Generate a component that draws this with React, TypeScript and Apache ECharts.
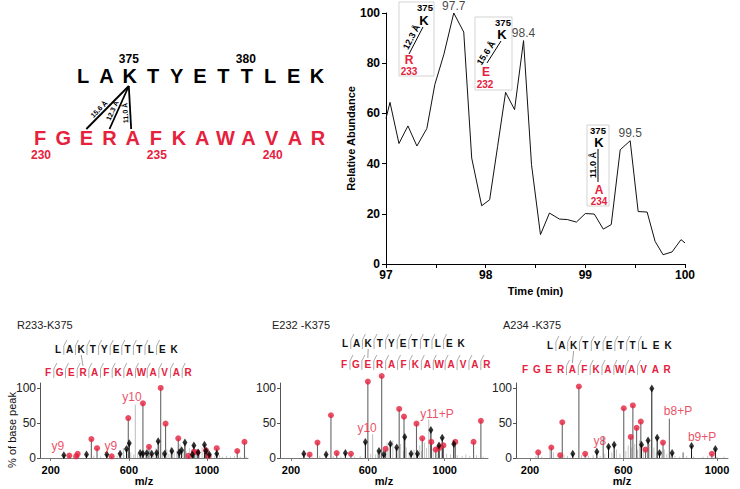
import { useEffect, useRef } from 'react';
import * as echarts from 'echarts';

// ---------- XIC (top right) ----------
const xicTime = [97.0, 97.04, 97.13, 97.22, 97.31, 97.41, 97.49, 97.58, 97.68, 97.78, 97.86, 97.96, 98.04, 98.12, 98.2, 98.29, 98.38, 98.46, 98.55, 98.64, 98.74, 98.82, 98.91, 99.0, 99.09, 99.18, 99.26, 99.35, 99.45, 99.53, 99.62, 99.7, 99.78, 99.87, 99.96, 100.0];
const xicAbund = [58, 64.4, 48, 55, 47, 54, 71.5, 83.4, 100, 92.4, 42.2, 23.2, 25.6, 46.9, 68.4, 61.5, 89, 39.6, 11.7, 20.3, 17.9, 17.7, 16.7, 20.1, 19.9, 13.9, 15.7, 45.5, 49.1, 20.9, 20.7, 9, 3.7, 4.8, 9.7, 8.4];
const xicPeakTime = [97.68, 98.38, 99.45];
const xicPeakAbund = [100, 89, 49.1];
const xicPeakLabels = ['97.7', '98.4', '99.5'];

// ---------- peptides ----------
const chainA = ['L', 'A', 'K', 'T', 'Y', 'E', 'T', 'T', 'L', 'E', 'K'];
const chainB = ['F', 'G', 'E', 'R', 'A', 'F', 'K', 'A', 'W', 'A', 'V', 'A', 'R'];
const chainANums = ['375', '380'];
const chainANumIdx = [2, 7];
const chainBNums = ['230', '235', '240'];
const chainBNumIdx = [0, 5, 10];
const distLabels = ['15.6 Å', '12.3 Å', '11.0 Å'];
const distTargetIdx = [2, 3, 4];

const panelTitles = ['R233-K375', 'E232 -K375', 'A234 -K375'];

// ---------- spectra ----------
const p1RedMz = [295, 330, 338, 408, 437, 512, 597, 672, 703, 763, 788, 853, 905, 933, 950, 995, 1008, 1050, 1155, 1192];
const p1RedInt = [3.4, 2.4, 6, 27, 14, 2.4, 57, 78, 16, 100, 49, 28, 3, 9, 8, 11, 3, 14, 10, 23];
const p1BlackMz = [267, 383, 487, 555, 588, 602, 658, 672, 692, 717, 742, 750, 783, 820, 858, 870, 887, 925, 933, 955, 987, 995, 1012, 1050];
const p1BlackInt = [4, 5, 5, 6, 13, 21, 7, 6, 7, 6, 7, 24, 6, 10, 8, 11, 22, 5, 18, 8, 19, 10, 5, 6];
const p1NoiseMz = [270, 300, 345, 380, 420, 455, 500, 540, 560, 575, 610, 625, 645, 665, 685, 700, 712, 728, 738, 760, 772, 795, 805, 815, 832, 845, 862, 878, 895, 910, 920, 940, 962, 975, 1005, 1020, 1040, 1065, 1080, 1100, 1120, 1140, 1170, 1200];
const p1NoiseInt = [2, 2, 3, 2, 3, 2, 2, 3, 5, 4, 8, 5, 6, 10, 5, 8, 12, 6, 14, 18, 9, 12, 6, 15, 8, 10, 20, 12, 9, 14, 6, 10, 8, 15, 5, 4, 3, 4, 2, 3, 2, 3, 2, 2];
const p1IonMz = [633, 572];
const p1IonInt = [76, 14];
const p1LabelText = ['y10', 'y9', 'y9'];
const p1LabelMz = [616, 237, 508];
const p1LabelInt = [87, 17, 17];

const p2RedMz = [297, 338, 408, 438, 512, 600, 672, 692, 763, 788, 853, 883, 930, 953, 970, 993, 1055, 1150, 1188];
const p2RedInt = [5, 22, 61, 7, 6, 109, 117, 13, 70, 59, 49, 28, 23, 12, 14, 18, 23, 23, 53];
const p2BlackMz = [267, 383, 483, 587, 658, 683, 717, 750, 792, 825, 858, 928, 970, 987, 1047];
const p2BlackInt = [6, 5, 7, 23, 10, 5, 20, 15, 30, 6, 6, 40, 18, 29, 20];
const p2NoiseMz = [270, 310, 350, 420, 460, 530, 560, 615, 640, 650, 668, 690, 700, 710, 730, 745, 770, 785, 800, 815, 840, 870, 880, 895, 905, 940, 960, 990, 1010, 1030, 1065, 1090, 1110, 1130, 1165, 1200];
const p2NoiseInt = [2, 2, 3, 3, 2, 2, 3, 6, 5, 8, 12, 10, 22, 15, 25, 12, 20, 10, 15, 8, 12, 18, 10, 22, 14, 12, 8, 10, 6, 5, 4, 3, 5, 3, 4, 2];
const p2IonMz = [625, 917];
const p2IonInt = [34, 55];
const p2LabelText = ['y10', 'y11+P'];
const p2LabelMz = [596, 960];
const p2LabelInt = [43, 63];

const p3RedMz = [235, 291, 329, 338, 409, 436, 601, 631, 640, 656, 674, 694, 769, 978];
const p3RedInt = [8, 15, 4, 51, 102, 6, 71, 30, 75, 43, 52, 12, 22, 6];
const p3BlackMz = [383, 486, 536, 560, 677, 705, 721, 744, 754, 808, 891, 993];
const p3BlackInt = [6, 9, 16, 19, 19, 25, 99, 29, 7, 7, 17, 13];
const p3NoiseMz = [225, 250, 285, 300, 345, 360, 420, 450, 470, 500, 520, 550, 570, 585, 610, 620, 635, 648, 660, 668, 685, 695, 712, 730, 740, 762, 775, 785, 800, 820, 840, 870, 900, 940, 960, 1000, 1030];
const p3NoiseInt = [3, 2, 12, 8, 5, 3, 4, 3, 4, 3, 6, 8, 12, 6, 10, 18, 15, 20, 12, 25, 14, 10, 20, 15, 8, 10, 12, 6, 4, 3, 2, 3, 2, 2, 3, 2, 2];
const p3IonMz = [796, 513, 855];
const p3IonInt = [56, 30, 8];
const p3LabelText = ['y8', 'b8+P', 'b9+P'];
const p3LabelMz = [499, 833, 936];
const p3LabelInt = [24, 67, 30];

const RED = '#e6213d';
const FONT = '"Liberation Sans", Arial, Helvetica, sans-serif';

const zip = (a: number[], b: number[]) => a.map((v, i) => [v, b[i]]);

function stickSeries(idx: number, data: number[][], color: string, width: number) {
  return {
    type: 'custom',
    xAxisIndex: idx,
    yAxisIndex: idx,
    clip: false,
    silent: true,
    encode: { x: 0, y: 1 },
    data,
    renderItem: (_p: any, api: any) => {
      const x = api.value(0);
      const v = api.value(1);
      const a = api.coord([x, 0]);
      const b = api.coord([x, v]);
      return { type: 'line', shape: { x1: a[0], y1: a[1], x2: b[0], y2: b[1] }, style: { stroke: color, lineWidth: width } };
    },
  };
}

function text(x: number, y: number, t: string, font: string, fill: string, rotation = 0, align = 'center') {
  return {
    type: 'text',
    x,
    y,
    rotation,
    silent: true,
    style: { text: t, font, fill, textAlign: align, textVerticalAlign: 'middle', align, verticalAlign: 'middle' },
  };
}

function line(x1: number, y1: number, x2: number, y2: number, stroke: string, lineWidth: number) {
  return { type: 'line', silent: true, shape: { x1, y1, x2, y2 }, style: { stroke, lineWidth } };
}

function ladder(
  g: any[],
  bx: number, by: number, bs: number,
  rx: number, ry: number, rs: number,
  bGaps: number[], rGaps: number[], linkB: number, linkR: number,
) {
  chainA.forEach((c, i) => g.push(text(bx + i * bs, by, c, `bold 10px ${FONT}`, '#111')));
  chainB.forEach((c, i) => g.push(text(rx + i * rs, ry, c, `bold 10px ${FONT}`, RED)));
  const mk = (gx: number, y: number) => ({
    type: 'polyline', silent: true,
    shape: { points: [[gx, y + 6], [gx, y - 3], [gx + 3, y - 9]] },
    style: { stroke: '#888', lineWidth: 0.7, fill: 'none' },
  });
  bGaps.forEach((i) => g.push(mk(bx + (i + 0.5) * bs, by)));
  rGaps.forEach((i) => g.push(mk(rx + (i + 0.5) * rs, ry)));
  g.push(line(bx + linkB * bs, by + 6, rx + linkR * rs, ry - 6, '#888', 0.8));
}

function buildGraphic() {
  const g: any[] = [];
  // top-left crosslink diagram
  const ax = 83, ay = 76, as = 23.4;
  const bx = 40, by = 138, bs = 23.17;
  chainA.forEach((c, i) => g.push(text(ax + i * as, ay, c, `bold 20px ${FONT}`, '#000')));
  chainB.forEach((c, i) => g.push(text(bx + i * bs, by, c, `bold 20px ${FONT}`, RED)));
  chainANums.forEach((n, k) => g.push(text(ax + chainANumIdx[k] * as - 1, 58.5, n, `bold 12px ${FONT}`, '#000')));
  chainBNums.forEach((n, k) => g.push(text(bx + chainBNumIdx[k] * bs + 1, 154.5, n, `bold 12px ${FONT}`, RED)));
  const kx = ax + 2 * as - 1, ky = 86;
  distTargetIdx.forEach((ti, k) => {
    const tx = bx + ti * bs - (k === 2 ? 1.5 : 0);
    const ty = 129;
    g.push(line(kx, ky, tx, ty, '#000', 1.8));
    const ang = Math.atan2(ty - ky, kx - tx);
    const f = 0.62;
    const px = kx + (tx - kx) * f;
    const py = ky + (ty - ky) * f;
    const nx = -Math.sin(ang), ny = -Math.cos(ang);
    g.push(text(px + nx * 5, py + ny * 5, distLabels[k], `bold 7px ${FONT}`, '#000', ang));
  });

  // insets in XIC
  const box = (x: number, y: number, w: number, h: number) => ({
    type: 'rect', silent: true, shape: { x, y, width: w, height: h }, style: { fill: 'none', stroke: '#c8c8c8', lineWidth: 0.8 },
  });
  g.push(box(399, 2, 35, 74));
  g.push(text(425, 7.5, '375', `bold 9.5px ${FONT}`, '#000'));
  g.push(text(424, 20.5, 'K', `bold 13px ${FONT}`, '#000'));
  g.push(line(409, 54, 423, 27, '#000', 1));
  g.push(text(411.5, 37, '12.3 Å', `bold 9px ${FONT}`, '#000', Math.atan2(27, 14)));
  g.push(text(409, 60, 'R', `bold 12px ${FONT}`, RED));
  g.push(text(409, 71.5, '233', `bold 10px ${FONT}`, RED));

  g.push(box(475, 17, 37, 73));
  g.push(text(503, 22, '375', `bold 9.5px ${FONT}`, '#000'));
  g.push(text(502, 34, 'K', `bold 13px ${FONT}`, '#000'));
  g.push(line(487, 63, 501, 41, '#000', 1));
  g.push(text(486, 53, '15.6 Å', `bold 9px ${FONT}`, '#000', Math.atan2(22, 14)));
  g.push(text(486, 72, 'E', `bold 12px ${FONT}`, RED));
  g.push(text(485, 84, '232', `bold 10px ${FONT}`, RED));

  g.push(box(587, 125, 22, 81));
  g.push(text(598, 130.5, '375', `bold 9.5px ${FONT}`, '#000'));
  g.push(text(599, 142, 'K', `bold 13px ${FONT}`, '#000'));
  g.push(line(598, 149, 598, 182, '#000', 1));
  g.push(text(592.5, 165, '11.0 Å', `bold 9px ${FONT}`, '#000', Math.PI / 2));
  g.push(text(599, 189.5, 'A', `bold 12px ${FONT}`, RED));
  g.push(text(599, 201.5, '234', `bold 10px ${FONT}`, RED));

  // spectra titles
  g.push(text(17, 325, panelTitles[0], `11px ${FONT}`, '#222', 0, 'left'));
  g.push(text(272, 325, panelTitles[1], `11px ${FONT}`, '#222', 0, 'left'));
  g.push(text(503, 325, panelTitles[2], `11px ${FONT}`, '#222', 0, 'left'));

  // ladders
  ladder(g, 58, 349, 11.6, 48, 372, 11.67, [0, 1, 2, 3, 4, 5, 6, 7, 8], [0, 1, 2, 3, 4, 5, 6, 7, 8, 9, 10, 11], 2, 3);
  ladder(g, 345, 343, 11.6, 344, 364, 11.9, [0, 1, 2, 3, 4, 5, 6, 7, 8], [0, 1, 2, 3, 4, 5, 6, 7, 8, 9, 10, 11], 2, 2);
  ladder(g, 550, 345, 11.8, 525, 369, 11.85, [0, 1, 2, 3, 4, 5, 6, 7], [3, 4, 5, 6, 7, 8, 9], 2, 4);

  // y-axis name of first spectrum
  g.push(text(12, 430, '% of base peak', `11px ${FONT}`, '#111', Math.PI / 2));
  return g;
}

const specGrids = [
  { left: 40, width: 208, min: 145, max: 1210 },
  { left: 280, width: 208, min: 143, max: 1225 },
  { left: 516, width: 212, min: 140, max: 1047 },
];

const panels = [
  { red: zip(p1RedMz, p1RedInt), black: zip(p1BlackMz, p1BlackInt), noise: zip(p1NoiseMz, p1NoiseInt), ion: zip(p1IonMz, p1IonInt), labels: p1LabelMz.map((m, i) => [m, p1LabelInt[i], p1LabelText[i]]) },
  { red: zip(p2RedMz, p2RedInt), black: zip(p2BlackMz, p2BlackInt), noise: zip(p2NoiseMz, p2NoiseInt), ion: zip(p2IonMz, p2IonInt), labels: p2LabelMz.map((m, i) => [m, p2LabelInt[i], p2LabelText[i]]) },
  { red: zip(p3RedMz, p3RedInt), black: zip(p3BlackMz, p3BlackInt), noise: zip(p3NoiseMz, p3NoiseInt), ion: zip(p3IonMz, p3IonInt), labels: p3LabelMz.map((m, i) => [m, p3LabelInt[i], p3LabelText[i]]) },
];

function buildOption() {
  const grid: any[] = [{ left: 386, top: 13, width: 299, height: 251 }];
  const xAxis: any[] = [{
    type: 'value', gridIndex: 0, min: 97, max: 100, interval: 0.5,
    axisLine: { lineStyle: { color: '#000', width: 1 } },
    axisTick: { length: 4, lineStyle: { color: '#000' } },
    splitLine: { show: false },
    axisLabel: { formatter: (v: number) => (Number.isInteger(v) ? String(v) : ''), fontWeight: 'bold', fontSize: 12, color: '#000', fontFamily: FONT, margin: 5 },
    name: 'Time (min)', nameLocation: 'middle', nameGap: 20,
    nameTextStyle: { fontWeight: 'bold', fontSize: 11, color: '#000', fontFamily: FONT },
  }];
  const yAxis: any[] = [{
    type: 'value', gridIndex: 0, min: 0, max: 100, interval: 20,
    axisLine: { show: true, lineStyle: { color: '#000', width: 1 } },
    axisTick: { show: true, length: 4, lineStyle: { color: '#000' } },
    splitLine: { show: false },
    axisLabel: { fontWeight: 'bold', fontSize: 12, color: '#000', fontFamily: FONT, margin: 6 },
    name: 'Relative Abundance', nameLocation: 'middle', nameGap: 29, nameRotate: 90,
    nameTextStyle: { fontWeight: 'bold', fontSize: 11, color: '#000', fontFamily: FONT },
  }];
  const series: any[] = [
    { type: 'line', xAxisIndex: 0, yAxisIndex: 0, data: zip(xicTime, xicAbund), symbol: 'none', lineStyle: { color: '#111', width: 1 }, silent: true },
    {
      type: 'scatter', xAxisIndex: 0, yAxisIndex: 0, symbolSize: 1, itemStyle: { color: 'transparent' },
      data: xicPeakTime.map((t, i) => [t, xicPeakAbund[i], xicPeakLabels[i]]),
      label: { show: true, position: 'top', distance: 1, formatter: (p: any) => p.data[2], fontSize: 12, color: '#111', fontFamily: FONT },
    },
  ];

  specGrids.forEach((sg, k) => {
    const idx = k + 1;
    grid.push({ left: sg.left, top: 383, width: sg.width, height: 75 });
    xAxis.push({
      type: 'value', gridIndex: idx, min: sg.min, max: sg.max,
      axisLine: { lineStyle: { color: '#777', width: 1 } },
      axisTick: { length: 3, lineStyle: { color: '#777' }, customValues: [200, 600, 1000] },
      splitLine: { show: false },
      axisLabel: { customValues: [200, 600, 1000], formatter: (v: number) => String(Math.round(v)), fontWeight: 'bold', fontSize: 11, color: '#000', fontFamily: FONT, margin: 6 },
      name: 'm/z', nameLocation: 'middle', nameGap: 17,
      nameTextStyle: { fontWeight: 'bold', fontSize: 11, color: '#000', fontFamily: FONT },
    });
    yAxis.push({
      type: 'value', gridIndex: idx, min: 0, max: 107,
      axisLine: { show: true, lineStyle: { color: '#555', width: 1 } },
      axisTick: { show: true, length: 3, lineStyle: { color: '#555' }, customValues: [0, 50, 100] },
      splitLine: { show: false },
      axisLabel: { customValues: [0, 50, 100], formatter: (v: number) => String(Math.round(v)), fontSize: 12, color: '#222', fontFamily: FONT, margin: 4 },
    });
    const p = panels[k];
    series.push(stickSeries(idx, p.noise, '#b5b5b5', 0.8));
    series.push(stickSeries(idx, p.ion, k === 2 ? '#333' : '#aaa', 0.8));
    series.push(stickSeries(idx, p.red, '#666', 1.1));
    series.push(stickSeries(idx, p.black, '#111', 1));
    series.push({
      type: 'scatter', xAxisIndex: idx, yAxisIndex: idx, data: p.red, symbol: 'circle', symbolSize: 6,
      itemStyle: { color: RED }, clip: false, silent: true,
    });
    series.push({
      type: 'scatter', xAxisIndex: idx, yAxisIndex: idx, data: p.black, symbol: 'diamond', symbolSize: [5, 8],
      itemStyle: { color: '#000' }, clip: false, silent: true,
    });
    series.push({
      type: 'scatter', xAxisIndex: idx, yAxisIndex: idx, data: p.labels, symbolSize: 1, itemStyle: { color: 'transparent' },
      clip: false, silent: true,
      label: { show: true, position: 'inside', formatter: (q: any) => q.data[2], fontSize: 12, color: RED, fontFamily: FONT },
    });
  });

  return {
    animation: false,
    backgroundColor: '#fff',
    grid,
    xAxis,
    yAxis,
    series,
    graphic: { elements: buildGraphic() },
  };
}

export default function App() {
  const ref = useRef<HTMLDivElement>(null);
  useEffect(() => {
    if (!ref.current) return;
    const chart = echarts.init(ref.current, undefined, { renderer: 'svg' });
    chart.setOption(buildOption() as any);
    return () => chart.dispose();
  }, []);
  return <div ref={ref} style={{ width: 740, height: 489, position: 'absolute', left: 0, top: 0 }} />;
}
